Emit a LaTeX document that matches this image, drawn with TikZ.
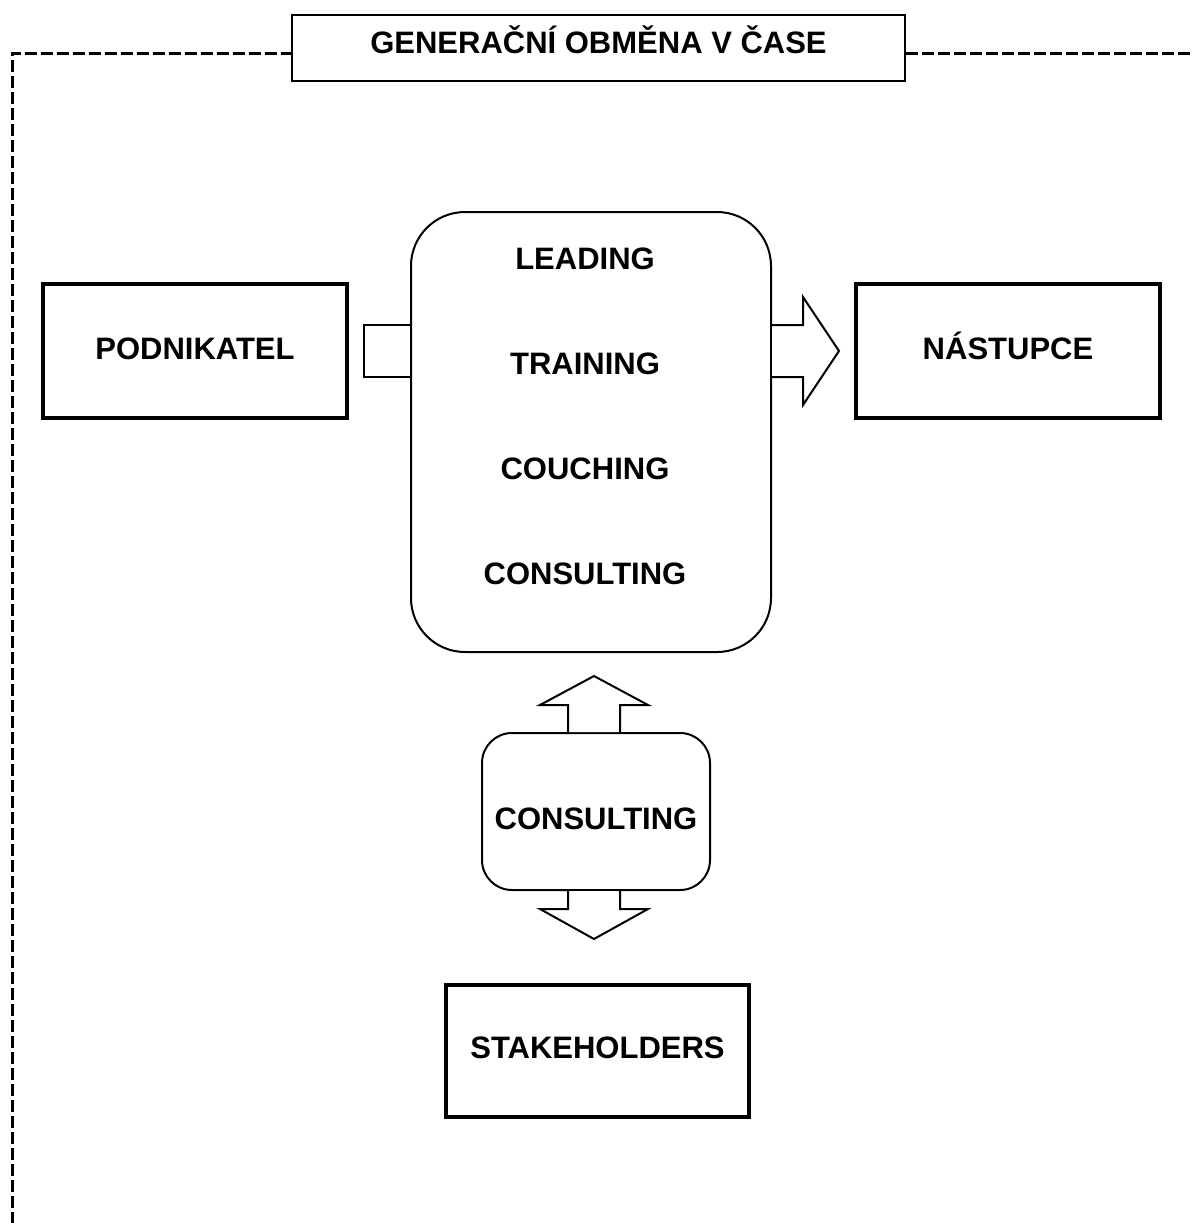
\documentclass[tikz,border=0pt]{standalone}
\usepackage{fontspec}
\setmainfont{Liberation Sans}
\usepackage{tikz}
\usetikzlibrary{calc}

\begin{document}
\begin{tikzpicture}[x=0.5pt,y=-0.5pt,
	lbl/.style={font=\fontsize{15.5}{18}\selectfont\bfseries, text height=11pt, text depth=0pt},
	heavybox/.style={draw, line width=2pt, minimum width=152pt, minimum height=67pt, inner sep=0pt, lbl, text depth=3pt},
	blockarrow/.style={draw, line width=1pt, line join=miter, fill=white},
	frame/.style={line width=1.5pt, dash pattern=on 6pt off 2pt}]
	\clip (0,0) rectangle (1191,1223);

	\node (titlebox) [draw, line width=1pt, minimum width=306.5pt, minimum height=33pt, inner sep=0pt, lbl, text depth=6pt] at (598.5,48) {GENERAČNÍ OBMĚNA V ČASE};
	\coordinate (frameTL) at (12,53);
	\coordinate (frameBL) at (12,1240);
	\coordinate (frameTR) at (1200,53);

	\node (boss) [heavybox] at (195,351) {PODNIKATEL};
	\node (heir) [heavybox] at (1008,351) {NÁSTUPCE};
	\node (stake) [heavybox, minimum width=151.5pt, minimum height=66pt] at (597.5,1050.5) {STAKEHOLDERS};

	\node (core) [draw, line width=1pt, rounded corners=27pt, minimum width=180pt, minimum height=220pt] at (591,432) {};
	\node (lead) [lbl] at (585,258) {LEADING};
	\node (train) [lbl] at (585,363) {TRAINING};
	\node (couch) [lbl] at (585,468) {COUCHING};
	\node (consult) [lbl] at (585,573) {CONSULTING};

	\node (advice) [draw, line width=1pt, rounded corners=15pt, minimum width=114pt, minimum height=78.5pt, inner sep=0pt, lbl, text height=18pt] at (596,811.5) {CONSULTING};

	% block arrows
	\draw [blockarrow] ($(core.west|-boss.east)+(0,-26)$) -- ++(-46,0) -- ++(0,52) -- ++(46,0);
	\draw [blockarrow] ($(core.east|-heir.west)+(0,-26)$) -- ++(31,0) -- ++(0,-28) -- ++(36,54) -- ++(-36,54) -- ++(0,-28) -- ++(-31,0);
	\draw [blockarrow] ($(advice.north)+(-28,0)$) -- ++(0,-27) -- ++(-28,0) -- ++(54,-29) -- ++(54,29) -- ++(-28,0) -- ++(0,27);
	\draw [blockarrow] ($(advice.south)+(-28,0)$) -- ++(0,18) -- ++(-28,0) -- ++(54,30) -- ++(54,-30) -- ++(-28,0) -- ++(0,-18);

	% dashed frame
	\draw [frame] (frameBL) -- (frameTL) -- (titlebox.west|-frameTL);
	\draw [frame] (titlebox.east|-frameTL) -- (frameTR);

\end{tikzpicture}
\end{document}
